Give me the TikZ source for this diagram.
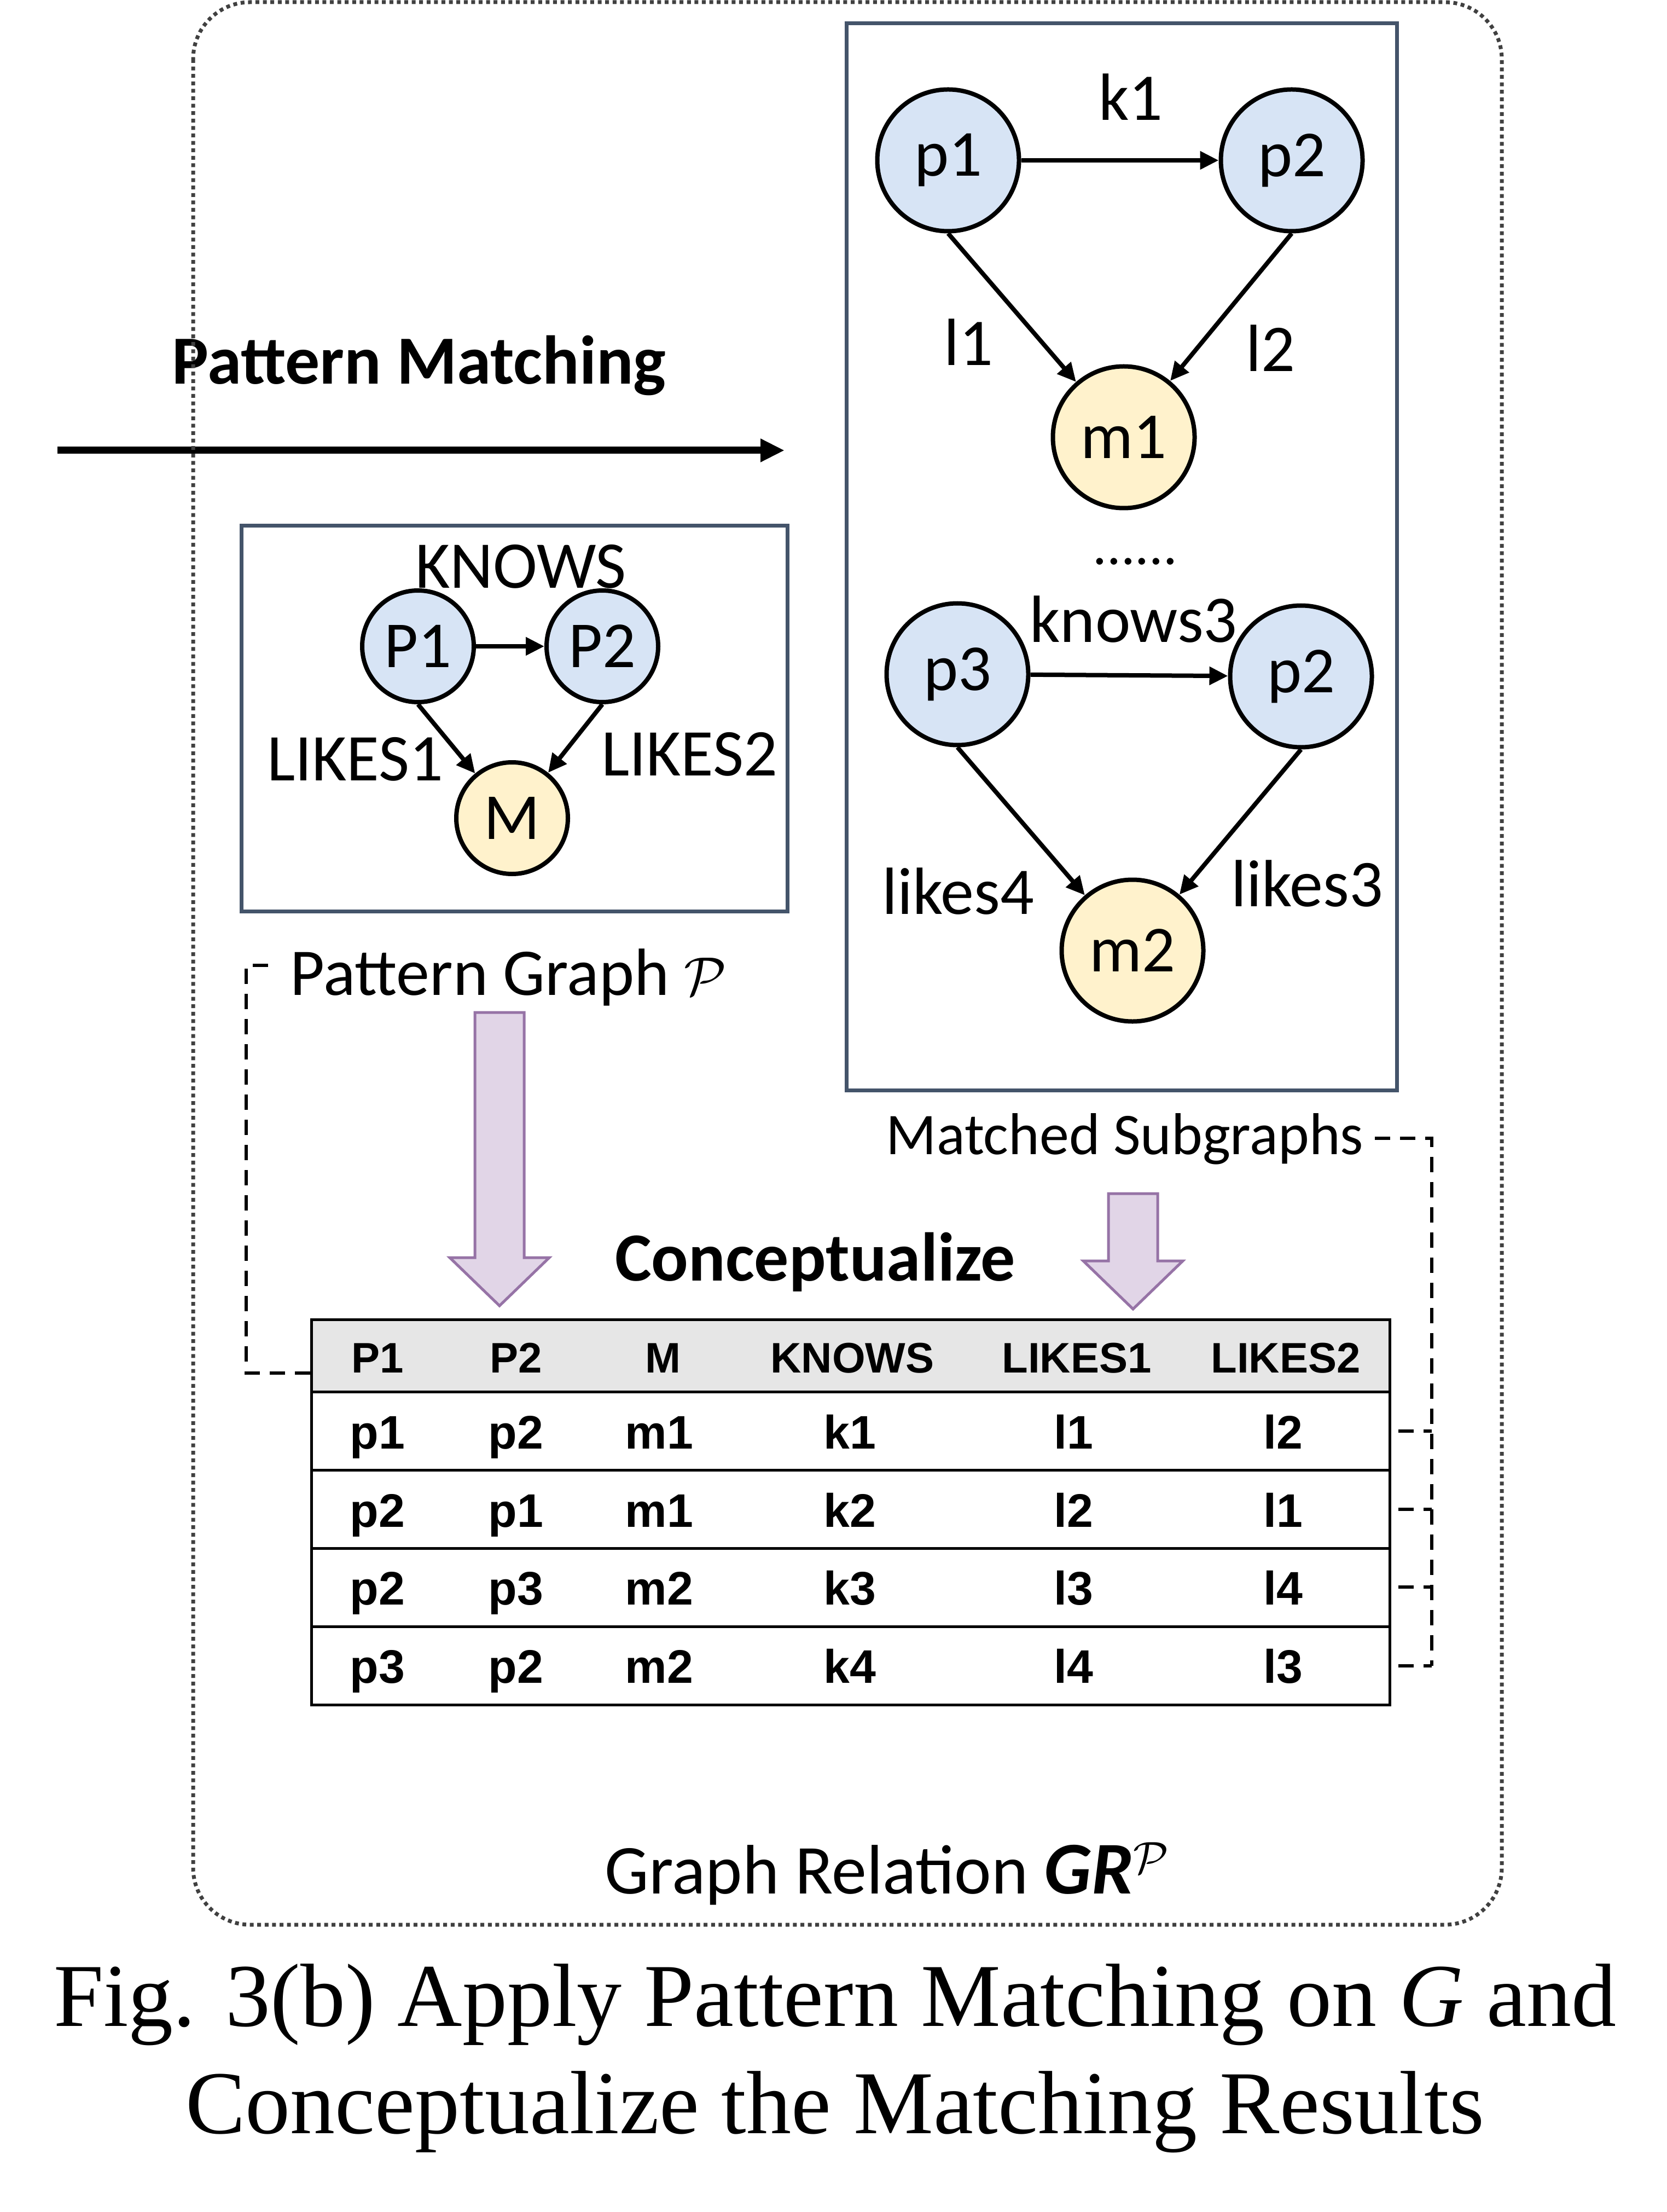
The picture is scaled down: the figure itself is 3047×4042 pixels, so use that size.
\documentclass[tikz,border=0pt]{standalone}
\usepackage{fontspec}
\setmainfont{Liberation Serif}
\newfontfamily\carl{Carlito}
\newfontfamily\arl{Liberation Sans}
\usetikzlibrary{arrows.meta}
\definecolor{nodeblue}{HTML}{D7E4F5}
\definecolor{nodeyellow}{HTML}{FFF2CC}
\definecolor{boxslate}{HTML}{44546A}
\definecolor{purfill}{HTML}{E1D5E7}
\definecolor{purline}{HTML}{9673A6}
\definecolor{hdrgray}{HTML}{E6E6E6}
\definecolor{dotgray}{HTML}{404040}
\begin{document}
\begin{tikzpicture}[x=0.25pt,y=-0.25pt,
  vbig/.style={circle,draw=black,line width=2pt,minimum size=64.75pt,inner sep=0pt,
    font=\carl\fontsize{30}{36}\selectfont},
  vsmall/.style={vbig,minimum size=51pt},
  pnode/.style={fill=nodeblue},
  mnode/.style={fill=nodeyellow},
  lbl/.style={inner sep=0pt,anchor=base,font=\carl\fontsize{30.5}{36}\selectfont},
  lblsm/.style={inner sep=0pt,anchor=base,font=\carl\fontsize{27}{32}\selectfont},
  title/.style={inner sep=0pt,anchor=base,font=\carl\bfseries\fontsize{31.5}{38}\selectfont},
  conn/.style={line width=2pt,-{Triangle[length=8.5pt,width=8pt]}},
  mainarrow/.style={line width=3.25pt,-{Triangle[length=11pt,width=10pt]}},
  slatebox/.style={draw=boxslate,line width=1.75pt,inner sep=0pt},
  bigarrow/.style={draw=purline,fill=purfill,line width=1.25pt,line join=miter},
  dashconn/.style={line width=1.4pt,dash pattern=on 7pt off 4.5pt},
  hdrtxt/.style={inner sep=0pt,anchor=base,font=\arl\bfseries\fontsize{19.5}{23}\selectfont},
  rowtxt/.style={inner sep=0pt,anchor=base,font=\arl\bfseries\fontsize{21.5}{26}\selectfont},
  capt/.style={inner sep=0pt,anchor=base,font=\fontsize{41}{49}\selectfont}
]
\useasboundingbox (0,0) rectangle (3047,4042);

% ---------- Pattern Matching arrow ----------
\node[title] (pmtext) at (766,702) {Pattern Matching};
\coordinate (pmA) at (105,823);
\coordinate (pmB) at (1434,823);
\draw[mainarrow] (pmA) -- (pmB);

% ---------- Matched subgraphs box ----------
\node[slatebox,minimum width=251.5pt,minimum height=487.25pt] (mbox) at (2050,1017.5) {};
\node[vbig,pnode] (p1) at (1733,293) {p1};
\node[vbig,pnode] (p2) at (2361,293) {p2};
\node[vbig,mnode] (m1) at (2054,799) {m1};
\draw[conn] (p1) -- (p2);
\draw[conn] (p1.south) -- (m1);
\draw[conn] (p2.south) -- (m1);
\node[lbl] (k1) at (2067,220) {k1};
\node[lbl] (l1) at (1770,668) {l1};
\node[lbl] (l2) at (2322,679) {l2};
\node[inner sep=0pt,anchor=base,font=\carl\fontsize{25.5}{30}\selectfont] (dots) at (2075,1032) {......};
\node[vbig,pnode] (p3) at (1750,1232) {p3};
\node[vbig,pnode] (p2b) at (2378,1236) {p2};
\node[vbig,mnode] (m2) at (2070,1737) {m2};
\draw[conn] (p3) -- (p2b);
\draw[conn] (p3.south) -- (m2);
\draw[conn] (p2b.south) -- (m2);
\node[lbl] (knows3) at (2072,1174) {knows3};
\node[lbl] (likes4) at (1751,1670) {likes4};
\node[lbl] (likes3) at (2389,1656) {likes3};
\node[lblsm] (mstext) at (2056,2109) {Matched Subgraphs};

% ---------- Pattern graph box ----------
\node[slatebox,minimum width=249.5pt,minimum height=176pt] (pbox) at (940,1313) {};
\node[vsmall,pnode] (P1) at (764,1181) {P1};
\node[vsmall,pnode] (P2) at (1101,1181) {P2};
\node[vsmall,mnode] (M) at (936,1495) {M};
\draw[conn] (P1) -- (P2);
\draw[conn] (P1.south) -- (M);
\draw[conn] (P2.south) -- (M);
\node[lbl] (KNOWS) at (952,1075) {KNOWS};
\node[lbl] (LIKES1) at (649,1426) {LIKES1};
\node[lbl] (LIKES2) at (1260,1417) {LIKES2};
\node[lbl,anchor=base west] (pgtext) at (530,1818) {Pattern Graph $\mathcal{P}$};

% ---------- Conceptualize arrows ----------
\draw[bigarrow] (868,1850) -- (958,1850) -- (958,2298) -- (1004,2298) -- (913,2386)
  -- (822,2298) -- (868,2298) -- cycle;
\draw[bigarrow] (2026,2181) -- (2116,2181) -- (2116,2304) -- (2162,2304) -- (2071,2392)
  -- (1980,2304) -- (2026,2304) -- cycle;
\node[title] (concept) at (1490,2340) {Conceptualize};

% ---------- Table ----------
\fill[hdrgray] (569,2411) rectangle (2540,2543);
\draw[line width=1.25pt] (569,2411) rectangle (2540,3115);
\foreach \yy in {2543,2686.5,2829,2972} \draw[line width=1.25pt] (569,\yy) -- (2540,\yy);
\foreach \t/\xx [count=\i] in {P1/690,P2/943,M/1212,KNOWS/1558,LIKES1/1968,LIKES2/2350}
  \node[hdrtxt] (h\i) at (\xx,2508) {\t};
\foreach \r/\yy/\a/\b/\c/\d/\e/\f in {1/2647/p1/p2/m1/k1/l1/l2, 2/2790/p2/p1/m1/k2/l2/l1,
    3/2932/p2/p3/m2/k3/l3/l4, 4/3075/p3/p2/m2/k4/l4/l3} {
  \node[rowtxt] (r\r c1) at (690,\yy) {\a};
  \node[rowtxt] (r\r c2) at (943,\yy) {\b};
  \node[rowtxt] (r\r c3) at (1205,\yy) {\c};
  \node[rowtxt] (r\r c4) at (1553,\yy) {\d};
  \node[rowtxt] (r\r c5) at (1962,\yy) {\e};
  \node[rowtxt] (r\r c6) at (2345,\yy) {\f};
}

% ---------- dashed connectors ----------
\coordinate (dl0) at (490,1764);
\coordinate (dl1) at (450,2509);
\coordinate (dl2) at (569,2509);
\draw[dashconn] (dl0) -| (dl1) -- (dl2);
\coordinate (dr0) at (2513,2080);
\coordinate (dr1) at (2617,3044);
\draw[dashconn] (dr0) -| (dr1);
\foreach \yy in {2615,2758,2900,3044} \draw[dashconn] (2556,\yy) -- (2617,\yy);

% ---------- outer frame ----------
\draw[dotgray,line width=1.75pt,dash pattern=on 1.75pt off 1.65pt,rounded corners=26pt]
  (353,4) rectangle (2745,3517);
\node[inner sep=0pt,anchor=base,font=\carl\fontsize{32}{38}\selectfont] (grtext) at (1622,3460)
  {Graph Relation {\fontsize{34}{40}\selectfont\textbf{\textit{GR}}}$^{\mathcal{P}}$};

% ---------- caption ----------
\node[capt] (cap1) at (1526,3702) {Fig. 3(b) Apply Pattern Matching on \textit{G} and};
\node[capt] (cap2) at (1526,3898) {Conceptualize the Matching Results};
\end{tikzpicture}
\end{document}
